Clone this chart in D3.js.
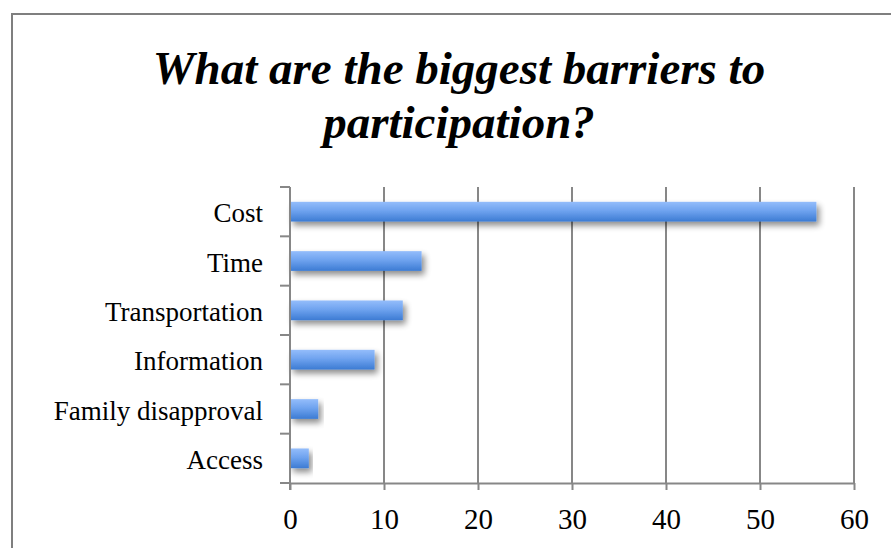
<!DOCTYPE html>
<html>
<head>
<meta charset="utf-8">
<script src="https://cdn.jsdelivr.net/npm/d3@7"></script>
<style>
  html, body { margin: 0; padding: 0; background: #fff; }
  svg { display: block; }
</style>
</head>
<body>
<svg id="chart" width="891" height="548"></svg>
<script>
// Survey responses: biggest barriers to participation
const categories = ["Cost", "Time", "Transportation", "Information", "Family disapproval", "Access"];
const counts = [56, 14, 12, 9, 3, 2];
const xTicks = [0, 10, 20, 30, 40, 50, 60];
const titleLines = ["What are the biggest barriers to", "participation?"];

const svg = d3.select("#chart");
const W = 891, H = 548;
const margin = { left: 290, right: 37, top: 187, bottom: 65 };
const fontFamily = "'Liberation Serif', 'DejaVu Serif', serif";
const gridColor = "#878787";

// chart frame
svg.append("rect")
  .attr("x", 12).attr("y", 14)
  .attr("width", W + 20).attr("height", H + 20)
  .attr("fill", "none").attr("stroke", "#7f7f7f").attr("stroke-width", 2);

// title
svg.append("g").selectAll("text").data(titleLines).join("text")
  .attr("x", 459).attr("y", (d, i) => 84 + i * 54)
  .attr("text-anchor", "middle")
  .attr("font-family", fontFamily)
  .attr("font-weight", "bold").attr("font-style", "italic")
  .attr("font-size", 47)
  .attr("fill", "#000")
  .text(d => d);

const x = d3.scaleLinear().domain([0, 60]).range([margin.left, W - margin.right]);
const y = d3.scaleBand().domain(categories).range([margin.top, H - margin.bottom]).paddingInner(0.6).paddingOuter(0.3);
const yEdges = d3.scaleLinear().domain([0, categories.length]).range([margin.top, H - margin.bottom]);

// defs: bar gradient and shadow
const defs = svg.append("defs");
const grad = defs.append("linearGradient").attr("id", "barGrad")
  .attr("x1", 0).attr("y1", 0).attr("x2", 0).attr("y2", 1);
grad.append("stop").attr("offset", "0%").attr("stop-color", "#94bdfb");
grad.append("stop").attr("offset", "45%").attr("stop-color", "#6fa3ef");
grad.append("stop").attr("offset", "100%").attr("stop-color", "#3c7bd3");
const shadow = defs.append("filter").attr("id", "barShadow")
  .attr("x", "-10%").attr("y", "-40%").attr("width", "130%").attr("height", "200%");
shadow.append("feGaussianBlur").attr("in", "SourceAlpha").attr("stdDeviation", 3).attr("result", "blur");
shadow.append("feOffset").attr("in", "blur").attr("dx", 3).attr("dy", 4).attr("result", "off");
shadow.append("feComponentTransfer").attr("in", "off").attr("result", "soft")
  .append("feFuncA").attr("type", "linear").attr("slope", 0.45);
const merge = shadow.append("feMerge");
merge.append("feMergeNode").attr("in", "soft");
merge.append("feMergeNode").attr("in", "SourceGraphic");

// vertical gridlines
svg.append("g").selectAll("line").data(xTicks.filter(t => t > 0)).join("line")
  .attr("x1", d => x(d)).attr("x2", d => x(d))
  .attr("y1", margin.top).attr("y2", H - margin.bottom)
  .attr("stroke", gridColor).attr("stroke-width", 2);

// bars
svg.append("g").selectAll("rect").data(categories).join("rect")
  .attr("x", x(0))
  .attr("y", d => y(d))
  .attr("width", (d, i) => x(counts[i]) - x(0))
  .attr("height", y.bandwidth())
  .attr("fill", "url(#barGrad)")
  .attr("filter", "url(#barShadow)");

// y axis line and category boundary ticks
const yAxisG = svg.append("g");
yAxisG.append("line")
  .attr("x1", x(0)).attr("x2", x(0))
  .attr("y1", margin.top).attr("y2", H - margin.bottom + 7)
  .attr("stroke", gridColor).attr("stroke-width", 2);
yAxisG.selectAll("line.tick").data(d3.range(categories.length + 1)).join("line")
  .attr("class", "tick")
  .attr("x1", x(0) - 10).attr("x2", x(0))
  .attr("y1", d => yEdges(d)).attr("y2", d => yEdges(d))
  .attr("stroke", gridColor).attr("stroke-width", 2);
yAxisG.selectAll("text").data(categories).join("text")
  .attr("x", x(0) - 27)
  .attr("y", d => y(d) + y.bandwidth() / 2)
  .attr("dy", "0.4em")
  .attr("text-anchor", "end")
  .attr("font-family", fontFamily).attr("font-size", 27)
  .attr("fill", "#000")
  .text(d => d);

// x axis
const xAxis = d3.axisBottom(x).tickValues(xTicks).tickSize(7).tickPadding(18).tickSizeOuter(0);
const xAxisG = svg.append("g")
  .attr("transform", `translate(0,${H - margin.bottom})`)
  .call(xAxis);
xAxisG.select(".domain").attr("stroke", gridColor).attr("stroke-width", 2);
xAxisG.selectAll(".tick line").attr("stroke", gridColor).attr("stroke-width", 2);
xAxisG.selectAll(".tick text")
  .attr("font-family", fontFamily).attr("font-size", 29).attr("fill", "#000");
</script>
</body>
</html>
